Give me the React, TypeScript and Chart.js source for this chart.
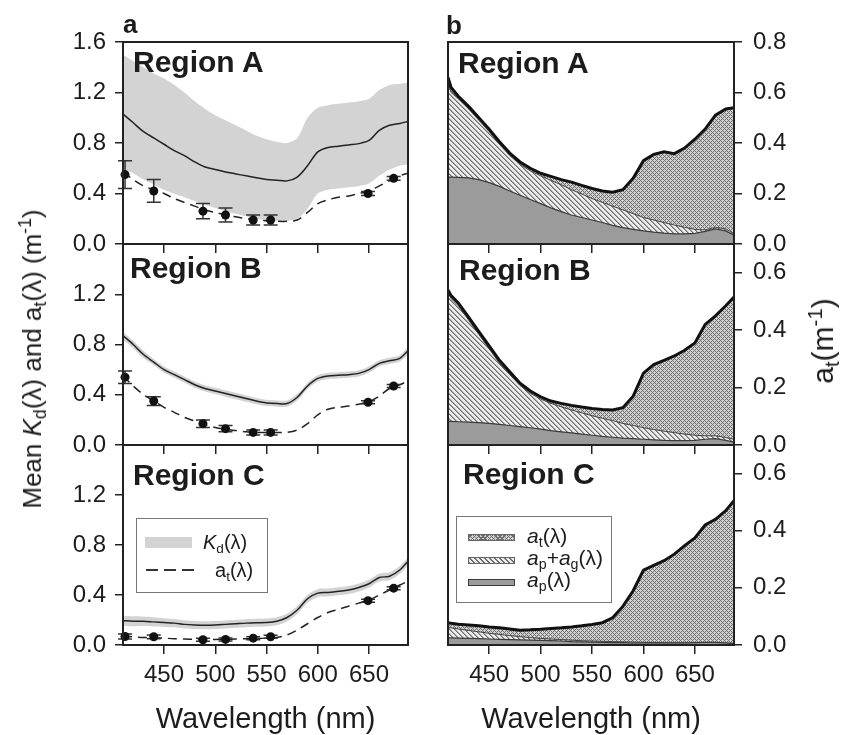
import React, { useEffect, useRef } from 'react';
import { Chart, registerables } from 'chart.js';
Chart.register(...registerables);

// ---------------- DATA ----------------
const WL = [410, 420, 430, 440, 450, 460, 470, 480, 490, 500, 510, 520, 530, 540, 550, 560, 570, 580, 590, 600, 610, 620, 630, 640, 650, 660, 670, 680, 688];
const WL_R = [410, 413, 420, 430, 440, 450, 460, 470, 480, 490, 500, 510, 520, 530, 540, 550, 560, 570, 580, 590, 600, 610, 620, 630, 640, 650, 660, 670, 680, 688];
const PT_WL = [412, 440, 488, 510, 537, 554, 649, 674];
const X_TICKS = [450, 500, 550, 600, 650];
const Y_TICKS_LEFT_TOP = [0, 0.4, 0.8, 1.2, 1.6];
const Y_TICKS_LEFT = [0, 0.4, 0.8, 1.2];
const Y_TICKS_RIGHT_TOP = [0, 0.2, 0.4, 0.6, 0.8];
const Y_TICKS_RIGHT = [0, 0.2, 0.4, 0.6];

// Region A (panel a)
const KD_A = [1.03, 0.96, 0.89, 0.84, 0.79, 0.74, 0.70, 0.65, 0.61, 0.59, 0.57, 0.555, 0.54, 0.525, 0.51, 0.505, 0.50, 0.53, 0.62, 0.73, 0.765, 0.775, 0.785, 0.795, 0.82, 0.90, 0.94, 0.955, 0.97];
const KD_A_HI = [1.50, 1.45, 1.40, 1.35, 1.31, 1.26, 1.20, 1.13, 1.07, 1.02, 0.98, 0.94, 0.90, 0.86, 0.83, 0.81, 0.80, 0.84, 1.00, 1.08, 1.10, 1.11, 1.12, 1.13, 1.15, 1.22, 1.26, 1.27, 1.28];
const KD_A_LO = [0.60, 0.56, 0.51, 0.47, 0.43, 0.40, 0.37, 0.34, 0.31, 0.285, 0.26, 0.24, 0.22, 0.20, 0.19, 0.185, 0.185, 0.20, 0.28, 0.40, 0.43, 0.44, 0.45, 0.46, 0.48, 0.54, 0.59, 0.62, 0.63];
const AT_A = [0.57, 0.51, 0.46, 0.43, 0.40, 0.36, 0.33, 0.30, 0.27, 0.25, 0.23, 0.215, 0.20, 0.19, 0.185, 0.18, 0.18, 0.19, 0.25, 0.32, 0.35, 0.37, 0.38, 0.40, 0.42, 0.46, 0.50, 0.54, 0.56];
const PT_A = [0.55, 0.42, 0.26, 0.23, 0.19, 0.19, 0.40, 0.52];
const ERR_A = [0.11, 0.09, 0.06, 0.055, 0.04, 0.04, 0.015, 0.015];

// Region B (panel a)
const KD_B = [0.87, 0.80, 0.72, 0.66, 0.60, 0.56, 0.52, 0.48, 0.45, 0.43, 0.41, 0.39, 0.37, 0.35, 0.335, 0.33, 0.33, 0.38, 0.47, 0.53, 0.55, 0.555, 0.56, 0.57, 0.60, 0.65, 0.67, 0.69, 0.75];
const KD_B_HI = [0.90, 0.83, 0.75, 0.685, 0.625, 0.585, 0.545, 0.505, 0.475, 0.455, 0.435, 0.415, 0.395, 0.375, 0.36, 0.355, 0.355, 0.405, 0.495, 0.555, 0.575, 0.58, 0.585, 0.595, 0.625, 0.675, 0.695, 0.715, 0.78];
const KD_B_LO = [0.84, 0.77, 0.69, 0.635, 0.575, 0.535, 0.495, 0.455, 0.425, 0.405, 0.385, 0.365, 0.345, 0.325, 0.31, 0.305, 0.305, 0.355, 0.445, 0.505, 0.525, 0.53, 0.535, 0.545, 0.575, 0.625, 0.645, 0.665, 0.72];
const AT_B = [0.55, 0.47, 0.40, 0.35, 0.30, 0.26, 0.22, 0.19, 0.16, 0.14, 0.125, 0.115, 0.105, 0.10, 0.10, 0.10, 0.10, 0.12, 0.17, 0.24, 0.285, 0.30, 0.31, 0.325, 0.345, 0.39, 0.45, 0.48, 0.51];
const PT_B = [0.54, 0.35, 0.17, 0.13, 0.10, 0.10, 0.34, 0.47];
const ERR_B = [0.05, 0.035, 0.03, 0.025, 0.02, 0.02, 0.012, 0.012];

// Region C (panel a)
const KD_C = [0.195, 0.19, 0.19, 0.185, 0.18, 0.175, 0.165, 0.16, 0.158, 0.16, 0.165, 0.17, 0.175, 0.178, 0.18, 0.19, 0.22, 0.28, 0.37, 0.415, 0.42, 0.43, 0.44, 0.46, 0.49, 0.54, 0.55, 0.60, 0.67];
const KD_C_HI = [0.235, 0.23, 0.228, 0.222, 0.215, 0.208, 0.198, 0.192, 0.19, 0.192, 0.197, 0.202, 0.207, 0.21, 0.212, 0.222, 0.252, 0.312, 0.402, 0.447, 0.452, 0.462, 0.472, 0.492, 0.522, 0.572, 0.582, 0.632, 0.70];
const KD_C_LO = [0.155, 0.15, 0.152, 0.148, 0.145, 0.142, 0.132, 0.128, 0.126, 0.128, 0.133, 0.138, 0.143, 0.146, 0.148, 0.158, 0.188, 0.248, 0.338, 0.383, 0.388, 0.398, 0.408, 0.428, 0.458, 0.508, 0.518, 0.568, 0.64];
const AT_C = [0.07, 0.065, 0.06, 0.06, 0.055, 0.05, 0.048, 0.045, 0.045, 0.045, 0.046, 0.048, 0.05, 0.052, 0.055, 0.06, 0.08, 0.12, 0.17, 0.22, 0.26, 0.285, 0.31, 0.335, 0.36, 0.40, 0.44, 0.48, 0.51];
const PT_C = [0.068, 0.066, 0.042, 0.045, 0.055, 0.066, 0.355, 0.455];
const ERR_C = [0.02, 0.015, 0.012, 0.012, 0.012, 0.012, 0.012, 0.012];

// Panel b: absorption components
const AT_RA = [0.66, 0.62, 0.585, 0.545, 0.50, 0.455, 0.405, 0.36, 0.325, 0.30, 0.28, 0.268, 0.255, 0.245, 0.232, 0.22, 0.21, 0.205, 0.215, 0.26, 0.33, 0.355, 0.365, 0.358, 0.38, 0.415, 0.455, 0.51, 0.535, 0.54];
const APG_RA = [0.64, 0.60, 0.575, 0.535, 0.49, 0.445, 0.395, 0.35, 0.315, 0.29, 0.27, 0.252, 0.235, 0.215, 0.198, 0.18, 0.165, 0.15, 0.135, 0.12, 0.105, 0.095, 0.085, 0.075, 0.066, 0.058, 0.056, 0.066, 0.06, 0.04];
const AP_RA = [0.265, 0.265, 0.264, 0.262, 0.255, 0.243, 0.228, 0.21, 0.193, 0.176, 0.16, 0.143, 0.128, 0.115, 0.105, 0.095, 0.085, 0.074, 0.065, 0.058, 0.052, 0.047, 0.043, 0.04, 0.04, 0.042, 0.05, 0.06, 0.052, 0.035];

const AT_RB = [0.54, 0.52, 0.495, 0.445, 0.395, 0.345, 0.295, 0.255, 0.215, 0.188, 0.168, 0.153, 0.145, 0.138, 0.132, 0.127, 0.124, 0.122, 0.13, 0.17, 0.25, 0.28, 0.295, 0.31, 0.33, 0.355, 0.42, 0.45, 0.485, 0.515];
const APG_RB = [0.53, 0.51, 0.485, 0.435, 0.385, 0.335, 0.285, 0.245, 0.207, 0.18, 0.16, 0.145, 0.133, 0.122, 0.112, 0.102, 0.093, 0.085, 0.075, 0.068, 0.06, 0.054, 0.048, 0.043, 0.038, 0.034, 0.032, 0.032, 0.026, 0.02];
const AP_RB = [0.082, 0.082, 0.081, 0.08, 0.078, 0.075, 0.072, 0.068, 0.064, 0.06, 0.055, 0.05, 0.046, 0.042, 0.038, 0.034, 0.03, 0.027, 0.024, 0.022, 0.02, 0.018, 0.016, 0.015, 0.015, 0.016, 0.02, 0.022, 0.016, 0.01];

const AT_RC = [0.078, 0.076, 0.073, 0.07, 0.067, 0.063, 0.06, 0.056, 0.052, 0.053, 0.055, 0.058, 0.06, 0.063, 0.067, 0.072, 0.078, 0.095, 0.135, 0.19, 0.262, 0.279, 0.295, 0.318, 0.348, 0.375, 0.42, 0.44, 0.47, 0.505];
const APG_RC = [0.062, 0.06, 0.056, 0.051, 0.046, 0.041, 0.037, 0.033, 0.029, 0.026, 0.023, 0.021, 0.019, 0.017, 0.015, 0.014, 0.013, 0.012, 0.011, 0.01, 0.009, 0.009, 0.008, 0.008, 0.008, 0.008, 0.008, 0.008, 0.007, 0.006];
const AP_RC = [0.025, 0.025, 0.024, 0.023, 0.022, 0.021, 0.02, 0.019, 0.018, 0.017, 0.016, 0.015, 0.014, 0.012, 0.011, 0.01, 0.009, 0.008, 0.008, 0.007, 0.007, 0.007, 0.007, 0.007, 0.007, 0.008, 0.009, 0.009, 0.007, 0.005];

// ---------------- LAYOUT ----------------
const W = 843;
const H = 735;
const FONT = '"Liberation Sans", Arial, Helvetica, sans-serif';
const INK = '#1c1c1c';
const ROW_TOP = [42, 244, 445];
const ROW_BOT = [244, 445, 645];
const LCOL = { left: 123, right: 408 };
const RCOL = { left: 448, right: 734 };

const xy = (xs: number[], ys: number[]) => xs.map((x, i) => ({ x, y: ys[i] }));

function makeCross(): CanvasPattern | string {
  const c = document.createElement('canvas');
  c.width = 4; c.height = 4;
  const g = c.getContext('2d');
  if (!g) return '#aaaaaa';
  g.fillStyle = '#d2d2d2';
  g.fillRect(0, 0, 4, 4);
  g.fillStyle = '#6c6c6c';
  for (let x = 0; x < 4; x++) for (let y = 0; y < 4; y++) {
    if ((x + y) % 4 === 0 || (x - y + 4) % 4 === 0) g.fillRect(x, y, 1, 1);
  }
  return g.createPattern(c, 'repeat') || '#aaaaaa';
}

function makeHatch(): CanvasPattern | string {
  const n = 5;
  const c = document.createElement('canvas');
  c.width = n; c.height = n;
  const g = c.getContext('2d');
  if (!g) return '#cccccc';
  g.fillStyle = '#ececec';
  g.fillRect(0, 0, n, n);
  for (let i = 0; i < n; i++) {
    g.fillStyle = '#6e6e6e';
    g.fillRect(i, i, 1, 1);
    g.fillStyle = '#a6a6a6';
    g.fillRect((i + 1) % n, i, 1, 1);
  }
  return g.createPattern(c, 'repeat') || '#cccccc';
}

const framePlugin = {
  id: 'frame',
  afterDraw(chart: any) {
    const { ctx, chartArea: a } = chart;
    ctx.save();
    ctx.strokeStyle = '#222';
    ctx.lineWidth = 2;
    ctx.strokeRect(a.left, a.top, a.right - a.left, a.bottom - a.top);
    ctx.restore();
  },
};

function axisX(isBottom: boolean) {
  return {
    type: 'linear',
    min: 410,
    max: 688,
    position: 'bottom',
    afterBuildTicks: (s: any) => { s.ticks = X_TICKS.map((v) => ({ value: v })); },
    afterFit: (s: any) => { s.height = isBottom ? 60 : 10; },
    grid: { drawOnChartArea: false, drawTicks: true, tickLength: 9, color: '#222', lineWidth: 1.5 },
    border: { display: false },
    ticks: { display: isBottom, autoSkip: false, maxRotation: 0, padding: 7, color: INK, font: { family: FONT, size: 24 } },
  };
}

function axisY(side: 'left' | 'right', max: number, ticks: number[], width: number) {
  return {
    type: 'linear',
    min: 0,
    max,
    position: side,
    afterBuildTicks: (s: any) => { s.ticks = ticks.map((v) => ({ value: v })); },
    afterFit: (s: any) => { s.width = width; },
    grid: { drawOnChartArea: false, drawTicks: true, tickLength: 8, color: '#222', lineWidth: 1.5 },
    border: { display: false },
    ticks: {
      autoSkip: false,
      padding: side === 'left' ? 9 : 11,
      color: INK,
      font: { family: FONT, size: 24 },
      callback: (v: any) => Number(v).toFixed(1),
    },
  };
}

function leftConfig(row: number, kd: number[], hi: number[], lo: number[], at: number[], pts: number[], errs: number[]) {
  const isBottom = row === 2;
  const errPlugin = {
    id: 'errbars' + row,
    beforeDatasetDraw(chart: any, args: any) {
      if (args.index !== 0) return;
      const { ctx } = chart;
      const xs = chart.scales.x;
      const ys = chart.scales.y;
      ctx.save();
      ctx.strokeStyle = '#333';
      ctx.lineWidth = 1.5;
      PT_WL.forEach((w, i) => {
        const px = xs.getPixelForValue(w);
        const y1 = ys.getPixelForValue(pts[i] + errs[i]);
        const y2 = ys.getPixelForValue(pts[i] - errs[i]);
        ctx.beginPath();
        ctx.moveTo(px, y1); ctx.lineTo(px, y2);
        ctx.moveTo(px - 7, y1); ctx.lineTo(px + 7, y1);
        ctx.moveTo(px - 7, y2); ctx.lineTo(px + 7, y2);
        ctx.stroke();
      });
      ctx.restore();
    },
  };
  return {
    type: 'line',
    data: {
      datasets: [
        { data: xy(PT_WL, pts), showLine: false, pointRadius: 4.5, pointBackgroundColor: '#111', pointBorderColor: '#111', pointBorderWidth: 0, clip: false },
        { data: xy(WL, at), borderColor: '#222', borderWidth: 1.5, borderDash: [9, 6], pointRadius: 0, tension: 0.3, fill: false },
        { data: xy(WL, kd), borderColor: '#222', borderWidth: 1.5, pointRadius: 0, tension: 0.3, fill: false },
        { data: xy(WL, hi), borderColor: 'transparent', borderWidth: 0, pointRadius: 0, tension: 0.3, backgroundColor: '#d3d3d3', fill: '+1' },
        { data: xy(WL, lo), borderColor: 'transparent', borderWidth: 0, pointRadius: 0, tension: 0.3, fill: false },
      ],
    },
    options: {
      responsive: false,
      animation: false,
      devicePixelRatio: 1,
      events: [],
      layout: { padding: { left: 0, right: W - LCOL.right, top: ROW_TOP[row], bottom: H - ROW_BOT[row] - (isBottom ? 60 : 10) } },
      plugins: { legend: { display: false }, tooltip: { enabled: false } },
      scales: {
        x: axisX(isBottom),
        y: axisY('left', 1.6, row === 0 ? Y_TICKS_LEFT_TOP : Y_TICKS_LEFT, LCOL.left),
      },
    },
    plugins: [errPlugin, framePlugin],
  };
}

function rightConfig(row: number, at: number[], apg: number[], ap: number[]) {
  const isBottom = row === 2;
  const cross = makeCross();
  const hatch = makeHatch();
  return {
    type: 'line',
    data: {
      datasets: [
        { data: xy(WL_R, at), borderColor: '#111', borderWidth: 3, pointRadius: 0, fill: false },
        { data: xy(WL_R, ap), borderColor: '#3a3a3a', borderWidth: 1.2, pointRadius: 0, backgroundColor: '#9b9b9b', fill: 'origin' },
        { data: xy(WL_R, apg), borderColor: '#444', borderWidth: 1, pointRadius: 0, backgroundColor: hatch, fill: 'origin' },
        { data: xy(WL_R, at), borderColor: 'transparent', borderWidth: 0, pointRadius: 0, backgroundColor: cross, fill: 'origin' },
      ],
    },
    options: {
      responsive: false,
      animation: false,
      devicePixelRatio: 1,
      events: [],
      layout: { padding: { left: RCOL.left, right: 0, top: ROW_TOP[row], bottom: H - ROW_BOT[row] - (isBottom ? 60 : 10) } },
      plugins: { legend: { display: false }, tooltip: { enabled: false } },
      scales: {
        x: axisX(isBottom),
        y: axisY('right', row === 0 ? 0.8 : 0.7, row === 0 ? Y_TICKS_RIGHT_TOP : Y_TICKS_RIGHT, W - RCOL.right),
      },
    },
    plugins: [framePlugin],
  };
}

function ChartLayer({ make }: { make: () => any }) {
  const ref = useRef<HTMLCanvasElement>(null);
  useEffect(() => {
    if (!ref.current) return;
    const chart = new Chart(ref.current, make());
    return () => chart.destroy();
  }, []);
  return <canvas ref={ref} width={W} height={H} style={{ position: 'absolute', left: 0, top: 0, width: W, height: H }} />;
}

const SUB: React.CSSProperties = { fontSize: '0.68em', verticalAlign: '-0.28em', lineHeight: 0 };
const SUP: React.CSSProperties = { fontSize: '0.68em', verticalAlign: '0.55em', lineHeight: 0 };

function Txt({ x, base, size, bold, center, children }: { x: number; base: number; size: number; bold?: boolean; center?: boolean; children: React.ReactNode }) {
  return (
    <div
      style={{
        position: 'absolute',
        left: x,
        top: base - 0.8465 * size,
        fontSize: size,
        lineHeight: `${size}px`,
        fontWeight: bold ? 'bold' : 'normal',
        fontFamily: FONT,
        color: INK,
        whiteSpace: 'nowrap',
        transform: center ? 'translateX(-50%)' : undefined,
      }}
    >
      {children}
    </div>
  );
}

function Rot({ cx, cy, size, children }: { cx: number; cy: number; size: number; children: React.ReactNode }) {
  return (
    <div
      style={{
        position: 'absolute',
        left: cx,
        top: cy,
        fontSize: size,
        lineHeight: `${size}px`,
        fontFamily: FONT,
        color: INK,
        whiteSpace: 'nowrap',
        transform: 'translate(-50%, -50%) rotate(-90deg)',
      }}
    >
      {children}
    </div>
  );
}

const box = (l: number, t: number, w: number, h: number, extra: React.CSSProperties = {}): React.CSSProperties => ({
  position: 'absolute', left: l, top: t, width: w, height: h, boxSizing: 'border-box', ...extra,
});

const CROSS_CSS = 'repeating-linear-gradient(45deg, #6c6c6c 0 1px, transparent 1px 3px), repeating-linear-gradient(-45deg, #6c6c6c 0 1px, #d2d2d2 1px 3px)';
const HATCH_CSS = 'repeating-linear-gradient(45deg, #707070 0 1.2px, #ececec 1.2px 3.5px)';

export default function App() {
  const rows = [
    { left: () => leftConfig(0, KD_A, KD_A_HI, KD_A_LO, AT_A, PT_A, ERR_A), right: () => rightConfig(0, AT_RA, APG_RA, AP_RA) },
    { left: () => leftConfig(1, KD_B, KD_B_HI, KD_B_LO, AT_B, PT_B, ERR_B), right: () => rightConfig(1, AT_RB, APG_RB, AP_RB) },
    { left: () => leftConfig(2, KD_C, KD_C_HI, KD_C_LO, AT_C, PT_C, ERR_C), right: () => rightConfig(2, AT_RC, APG_RC, AP_RC) },
  ];
  return (
    <div style={{ position: 'fixed', left: 0, top: 0, width: W, height: H, background: '#fff', overflow: 'hidden', fontFamily: FONT }}>
      {rows.map((r, i) => <ChartLayer key={'l' + i} make={r.left} />)}
      {rows.map((r, i) => <ChartLayer key={'r' + i} make={r.right} />)}

      <Txt x={123} base={33} size={26} bold>a</Txt>
      <Txt x={446} base={34} size={26} bold>b</Txt>

      <Txt x={133} base={72} size={30} bold>Region A</Txt>
      <Txt x={130} base={278} size={30} bold>Region B</Txt>
      <Txt x={133} base={485} size={30} bold>Region C</Txt>
      <Txt x={458} base={73} size={30} bold>Region A</Txt>
      <Txt x={459} base={280} size={30} bold>Region B</Txt>
      <Txt x={463} base={484} size={30} bold>Region C</Txt>

      {/* left legend */}
      <div style={box(136, 518, 132, 75, { border: '1px solid #777' })} />
      <div style={box(145, 537, 47, 11, { background: '#d3d3d3' })} />
      <Txt x={203} base={549} size={20}><i>K</i><span style={SUB}>d</span>(λ)</Txt>
      <div style={box(146, 569, 51, 1.5, { background: 'repeating-linear-gradient(to right, #333 0 12px, transparent 12px 18px)' })} />
      <Txt x={215} base={577} size={20}>a<span style={SUB}>t</span>(λ)</Txt>

      {/* right legend */}
      <div style={box(456, 516, 156, 87, { border: '1px solid #777' })} />
      <div style={box(468, 534, 47, 7, { background: CROSS_CSS, border: '1px solid #666' })} />
      <div style={box(468, 557, 47, 7, { background: HATCH_CSS, border: '1px solid #666' })} />
      <div style={box(468, 579, 47, 7, { background: '#9b9b9b', border: '1px solid #3a3a3a' })} />
      <Txt x={527} base={543} size={21}><i>a</i><span style={SUB}>t</span>(λ)</Txt>
      <Txt x={527} base={565} size={21}><i>a</i><span style={SUB}>p</span>+<i>a</i><span style={SUB}>g</span>(λ)</Txt>
      <Txt x={527} base={587} size={21}><i>a</i><span style={SUB}>p</span>(λ)</Txt>

      {/* axis titles */}
      <Rot cx={32} cy={359} size={26}>
        Mean <i>K</i><span style={SUB}>d</span>(λ) and a<span style={SUB}>t</span>(λ) (m<span style={SUP}>-1</span>)
      </Rot>
      <Rot cx={823} cy={341} size={30}>
        a<span style={SUB}>t</span>(m<span style={SUP}>-1</span>)
      </Rot>
      <Txt x={265.5} base={729} size={29} center>Wavelength (nm)</Txt>
      <Txt x={591} base={729} size={29} center>Wavelength (nm)</Txt>
    </div>
  );
}
